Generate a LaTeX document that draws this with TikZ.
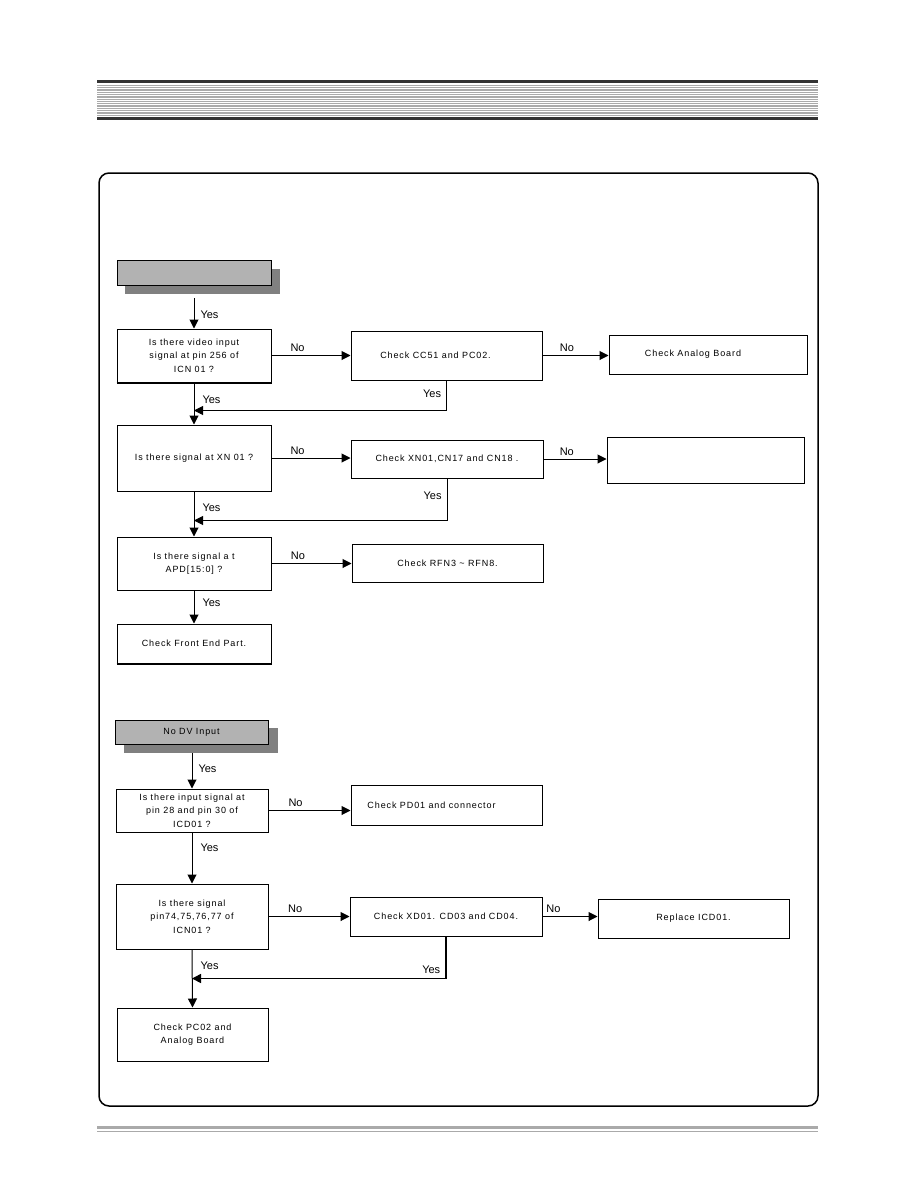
\documentclass[tikz,border=0pt]{standalone}
\usepackage{fontspec}
\setmainfont{Liberation Sans}
\newfontfamily\boxfont{Liberation Sans}[LetterSpace=10]
\usetikzlibrary{arrows.meta,calc,positioning}
\definecolor{headdark}{RGB}{51,51,51}
\definecolor{headline}{RGB}{170,170,170}
\definecolor{boxgray}{RGB}{178,178,178}
\definecolor{shadowgray}{RGB}{128,128,128}
\tikzset{>={Triangle[length=9pt,width=9pt]}}
\tikzset{font=\boxfont\fontsize{9}{13.5}\selectfont}
\tikzset{
  chkbox/.style={draw=black, line width=1pt, rectangle, align=center, inner sep=2pt},
  titlebox/.style={draw=black, line width=1pt, fill=boxgray, rectangle, inner sep=2pt},
  shadowbox/.style={fill=shadowgray, rectangle, inner sep=0pt},
  flow/.style={->, line width=1pt},
  ans/.style={font=\rmfamily\fontsize{11}{13}\selectfont, inner sep=1pt},
  yeslbl/.style={ans, anchor=west, xshift=7pt},
  nolbl/.style={ans, above, yshift=2pt}
}

\begin{document}
\begin{tikzpicture}[x=1pt,y=-1pt]
  \useasboundingbox (0,0) rectangle (918,1188);
  % page header
  \fill[headdark] (97,80) rectangle (818,83);
  \foreach \k in {0,...,17}
    \fill[headline] (97,{85+1.78*\k}) rectangle (818,{85.9+1.78*\k});
  \fill[headdark] (97,117) rectangle (818,120);
  % frame
  \draw[line width=1.5pt, rounded corners=10pt] (99,173) rectangle (818,1106);
  % footer
  \fill[headline] (97,1126) rectangle (818,1129);
  \fill[headline] (97,1131) rectangle (818,1132.2);

  % first chart
  \node[shadowbox, minimum width=155, minimum height=25] (g1s) at (202.5,281.5) {};
  \node[titlebox, minimum width=154, minimum height=24.5] (g1) at (194,272.75) {};
  \node[chkbox, minimum width=154, minimum height=53] (q1) at (194,355.5)
    {Is there video input\\signal at pin 256 of\\ICN 01 ?};
  \node[chkbox, minimum width=191, minimum height=49] (c1) at (446.5,355.5)
    {\hspace*{-22pt}Check CC51 and PC02.};
  \node[chkbox, minimum width=198, minimum height=39] (a1) at (708,354.5)
    {\hspace*{-30pt}Check Analog Board};
  \node[chkbox, minimum width=154, minimum height=66] (q2) at (194,458)
    {Is there signal at XN 01 ?};
  \node[chkbox, minimum width=192, minimum height=38] (c2) at (447,459)
    {Check XN01,CN17 and CN18 .};
  \node[chkbox, minimum width=197, minimum height=46] (b2) at (705.5,460) {};
  \node[chkbox, minimum width=154, minimum height=53] (q3) at (194,563.5)
    {Is there signal a t\\APD[15:0] ?};
  \node[chkbox, minimum width=191, minimum height=38] (c3) at (447.5,563)
    {Check RFN3 \textasciitilde{} RFN8.};
  \node[chkbox, minimum width=154, minimum height=39] (f1) at (194,643.5)
    {Check Front End Part.};
  \draw[line width=2pt] (q1.south west) -- (q1.south east);
  \draw[line width=2pt] (f1.south west) -- (f1.south east);

  \draw[flow, shorten <=4pt] (q1.north |- g1s.south) -- (q1.north)
    node[yeslbl, pos=0.6, xshift=-2pt] {Yes};
  \draw[flow] (q1.east) -- (c1.west |- q1.east) node[nolbl, pos=0.33] {No};
  \draw[flow] (c1.east) -- (a1.west |- c1.east) node[nolbl, pos=0.37] {No};
  \draw[flow] (c1.south) |- ($(q1.south)+(0,28)$) node[ans, pos=0.22, left=4pt] {Yes};
  \draw[flow] (q1.south) -- (q2.north) node[yeslbl, pos=0.42] {Yes};
  \draw[flow] (q2.east) -- (c2.west |- q2.east) node[nolbl, pos=0.33] {No};
  \draw[flow] (c2.east) -- (b2.west |- c2.east) node[nolbl, pos=0.37] {No};
  \draw[flow] (c2.south) |- ($(q2.south)+(0,29)$) node[ans, pos=0.2, left=4pt] {Yes};
  \draw[flow] (q2.south) -- (q3.north) node[yeslbl, pos=0.37] {Yes};
  \draw[flow] (q3.east) -- (c3.west |- q3.east) node[nolbl, pos=0.33] {No};
  \draw[flow] (q3.south) -- (f1.north) node[yeslbl, pos=0.38] {Yes};

  % second chart
  \node[shadowbox, minimum width=154, minimum height=25] (g2s) at (201,740.5) {};
  \node[titlebox, minimum width=153, minimum height=24] (g2) at (191.5,732) {No DV Input};
  \node[chkbox, minimum width=152, minimum height=43] (q4) at (192,810.5)
    {Is there input signal at\\pin 28 and pin 30 of\\ICD01 ?};
  \node[chkbox, minimum width=191, minimum height=40] (c4) at (446.5,805)
    {\hspace*{-30pt}Check PD01 and connector};
  \node[chkbox, minimum width=152, minimum height=65] (q5) at (192,916.5)
    {Is there signal\\pin74,75,76,77 of\\ICN01 ?};
  \node[chkbox, minimum width=192, minimum height=39] (c5) at (446,916.5)
    {Check XD01. CD03 and CD04.};
  \node[chkbox, minimum width=191, minimum height=39] (r1) at (693.5,918.5)
    {Replace ICD01.};
  \node[chkbox, minimum width=151, minimum height=53] (p1) at (192.5,1034.5)
    {Check PC02 and\\Analog Board};

  \draw[flow] (q4.north |- g2s.south) -- (q4.north) node[yeslbl, pos=0.45, xshift=-2pt] {Yes};
  \draw[flow] (q4.east) -- (c4.west |- q4.east) node[nolbl, pos=0.33] {No};
  \draw[flow] (q4.south) -- (q5.north) node[yeslbl, pos=0.3] {Yes};
  \draw[flow] (q5.east) -- (c5.west |- q5.east) node[nolbl, pos=0.33] {No};
  \draw[flow] (c5.east) -- (r1.west |- c5.east) node[nolbl, pos=0.2] {No};
  \draw[flow, line width=1.6pt] (c5.south) |- ($(q5.south)+(0,29)$)
    node[ans, pos=0.4, left=4pt] {Yes};
  \draw[flow] (q5.south) -- (p1.north) node[yeslbl, pos=0.28] {Yes};
\end{tikzpicture}
\end{document}
